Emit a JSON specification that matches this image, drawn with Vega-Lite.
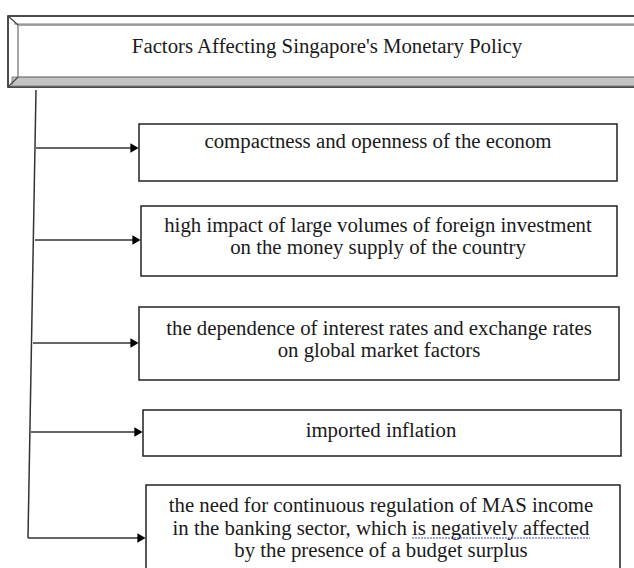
{
  "$schema": "https://vega.github.io/schema/vega-lite/v6.json",
  "width": 634,
  "height": 568,
  "autosize": {"type": "none"},
  "padding": 0,
  "background": "white",
  "config": {"view": {"stroke": null}},
  "encoding": {
    "x": {"field": "x", "type": "quantitative", "scale": {"domain": [0, 634], "nice": false, "zero": false}, "axis": null},
    "y": {"field": "y", "type": "quantitative", "scale": {"domain": [0, 568], "nice": false, "zero": false, "reverse": true}, "axis": null}
  },
  "layer": [
    {
      "data": {"values": [{"x": 8, "y": 16, "x2": 700, "y2": 87}]},
      "mark": {"type": "rect", "fill": "white", "stroke": "#111", "strokeWidth": 1.5},
      "encoding": {"x2": {"field": "x2"}, "y2": {"field": "y2"}}
    },
    {
      "data": {"values": [{"x": 12, "y": 77, "x2": 700, "y2": 86}]},
      "mark": {"type": "rect", "fill": "#c4c4c4", "stroke": "#808080", "strokeWidth": 1},
      "encoding": {"x2": {"field": "x2"}, "y2": {"field": "y2"}}
    },
    {
      "data": {"values": [{"x": 14, "y": 23, "x2": 700, "y2": 25}]},
      "mark": {"type": "rect", "fill": "#bdbdbd"},
      "encoding": {"x2": {"field": "x2"}, "y2": {"field": "y2"}}
    },
    {
      "data": {"values": [{"x": 18, "y": 25, "x2": 700, "y2": 77}]},
      "mark": {"type": "rect", "fill": "white", "stroke": "#8a8a8a", "strokeWidth": 1.5},
      "encoding": {"x2": {"field": "x2"}, "y2": {"field": "y2"}}
    },
    {
      "data": {"values": [
        {"x": 8, "y": 16, "x2": 18, "y2": 25},
        {"x": 8, "y": 87, "x2": 18, "y2": 77}
      ]},
      "mark": {"type": "rule", "color": "#444", "strokeWidth": 1.2},
      "encoding": {"x2": {"field": "x2"}, "y2": {"field": "y2"}}
    },
    {
      "data": {"values": [
        {"x": 139, "y": 124, "x2": 617, "y2": 181},
        {"x": 141, "y": 206, "x2": 617, "y2": 276},
        {"x": 139, "y": 307, "x2": 619, "y2": 380},
        {"x": 143, "y": 410, "x2": 621, "y2": 456},
        {"x": 146, "y": 485, "x2": 620, "y2": 600}
      ]},
      "mark": {"type": "rect", "fill": "white", "stroke": "#222", "strokeWidth": 1.5},
      "encoding": {"x2": {"field": "x2"}, "y2": {"field": "y2"}}
    },
    {
      "data": {"values": [
        {"x": 36, "y": 90, "x2": 28, "y2": 538},
        {"x": 36, "y": 148, "x2": 132, "y2": 148},
        {"x": 35, "y": 240, "x2": 134, "y2": 240},
        {"x": 33, "y": 343, "x2": 132, "y2": 343},
        {"x": 31, "y": 432, "x2": 136, "y2": 432},
        {"x": 28, "y": 538, "x2": 139, "y2": 538}
      ]},
      "mark": {"type": "rule", "color": "#333", "strokeWidth": 1.5},
      "encoding": {"x2": {"field": "x2"}, "y2": {"field": "y2"}}
    },
    {
      "data": {"values": [
        {"x": 134.5, "y": 148},
        {"x": 136.5, "y": 240},
        {"x": 134.5, "y": 343},
        {"x": 138.5, "y": 432},
        {"x": 141.5, "y": 538}
      ]},
      "mark": {"type": "point", "shape": "triangle-right", "filled": true, "color": "black", "opacity": 1, "size": 90}
    },
    {
      "data": {"values": [{"x": 412, "y": 538, "x2": 590, "y2": 538}]},
      "mark": {"type": "rule", "color": "#3a4fd8", "strokeWidth": 1.2, "strokeDash": [2, 1]},
      "encoding": {"x2": {"field": "x2"}, "y2": {"field": "y2"}}
    },
    {
      "data": {"values": [
        {"x": 327, "y": 53, "t": "Factors Affecting Singapore's Monetary Policy"},
        {"x": 378, "y": 148, "t": "compactness and openness of the econom"},
        {"x": 378, "y": 232, "t": "high impact of large volumes of foreign investment"},
        {"x": 378, "y": 254, "t": "on the money supply of the country"},
        {"x": 379, "y": 335, "t": "the dependence of interest rates and exchange rates"},
        {"x": 379, "y": 357, "t": "on global market factors"},
        {"x": 381, "y": 437, "t": "imported inflation"},
        {"x": 381, "y": 512, "t": "the need for continuous regulation of MAS income"},
        {"x": 381, "y": 535, "t": "in the banking sector, which is negatively affected"},
        {"x": 381, "y": 557, "t": "by the presence of a budget surplus"}
      ]},
      "mark": {"type": "text", "font": "'Liberation Serif', 'Times New Roman', serif", "fontSize": 20.8, "align": "center", "baseline": "alphabetic", "color": "#1a1a1a"},
      "encoding": {"text": {"field": "t"}}
    }
  ]
}
